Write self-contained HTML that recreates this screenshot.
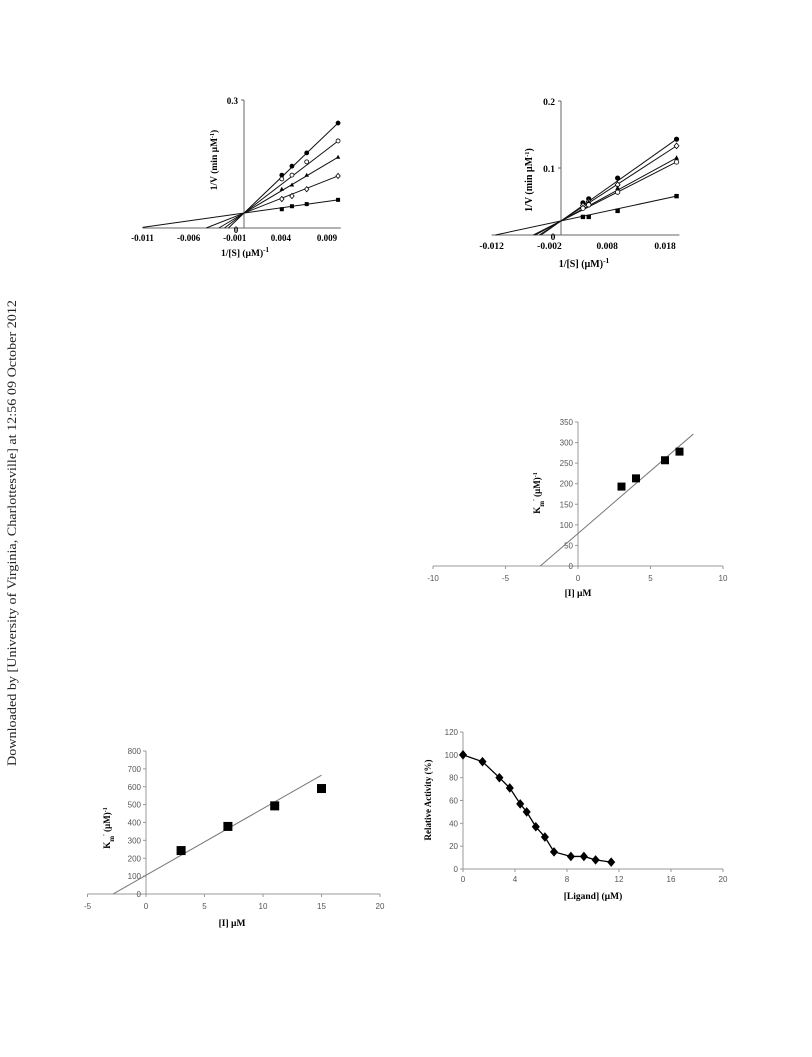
<!DOCTYPE html>
<html><head><meta charset="utf-8"><style>
html,body{margin:0;padding:0;background:#fff;width:812px;height:1057px;overflow:hidden}
svg{display:block}
.tb{font-family:"Liberation Serif",serif;font-weight:bold}
.ts{font-family:"Liberation Sans",sans-serif;fill:#555}
</style></head><body>
<svg id="page" width="812" height="1057" viewBox="0 0 812 1057" xmlns="http://www.w3.org/2000/svg">
<text x="0" y="0" transform="translate(16,533) rotate(-90)" text-anchor="middle" font-family="Liberation Serif, serif" font-size="12.5" textLength="466" lengthAdjust="spacingAndGlyphs" fill="#222">Downloaded by [University of Virginia, Charlottesville] at 12:56 09 October 2012</text>
<g id="c1"></g>
<g id="c2"></g>
<g id="c3"></g>
<g id="c4"></g>
<g id="c5"></g>
</svg>
<script>
// ---- Chart 1 data ----
const c1X = [0.0041, 0.0052, 0.0068, 0.0102];
const c1S1 = [0.124, 0.145, 0.176, 0.246];
const c1S2 = [0.115, 0.124, 0.155, 0.204];
const c1S3 = [0.091, 0.101, 0.124, 0.166];
const c1S4 = [0.068, 0.075, 0.091, 0.122];
const c1S5 = [0.044, 0.051, 0.056, 0.066];
const c1XTicks = [-0.011, -0.006, -0.001, 0.004, 0.009];
const c1XTickLabels = ["-0.011", "-0.006", "-0.001", "0.004", "0.009"];
const c1YTicks = [0.3];
const c1YTickLabels = ["0.3"];
const c1Pivot = [0, 0.035];
// ---- Chart 2 data ----
const c2X = [0.0038, 0.0048, 0.0098, 0.020];
const c2S1 = [0.048, 0.054, 0.085, 0.143];
const c2S2 = [0.044, 0.050, 0.075, 0.133];
const c2S3 = [0.042, 0.049, 0.070, 0.115];
const c2S4 = [0.040, 0.045, 0.064, 0.109];
const c2S5 = [0.027, 0.027, 0.036, 0.058];
const c2XTicks = [-0.012, -0.002, 0.008, 0.018];
const c2XTickLabels = ["-0.012", "-0.002", "0.008", "0.018"];
const c2YTicks = [0.1, 0.2];
const c2YTickLabels = ["0.1", "0.2"];
const c2Pivot = [0, 0.021];
// ---- Chart 3 data ----
const c3X = [3, 4, 6, 7];
const c3Y = [193, 213, 257, 278];
const c3Fit = [79, 30.4]; // intercept, slope
const c3FitRange = [-2.6, 7.95];
const c3XTicks = [-10, -5, 0, 5, 10];
const c3YTicks = [0, 50, 100, 150, 200, 250, 300, 350];
// ---- Chart 4 data ----
const c4X = [3, 7, 11, 15];
const c4Y = [243, 378, 493, 590];
const c4Fit = [105, 37.3];
const c4FitRange = [-2.8, 15];
const c4XTicks = [-5, 0, 5, 10, 15, 20];
const c4YTicks = [0, 100, 200, 300, 400, 500, 600, 700, 800];
// ---- Chart 5 data ----
const c5X = [0, 1.5, 2.8, 3.6, 4.4, 4.9, 5.6, 6.3, 7.0, 8.3, 9.3, 10.2, 11.4];
const c5Y = [100, 94, 80, 71, 57, 50, 37, 28, 15, 11, 11, 8, 6];
const c5XTicks = [0, 4, 8, 12, 16, 20];
const c5YTicks = [0, 20, 40, 60, 80, 100, 120];

const NS = "http://www.w3.org/2000/svg";
function mk(parent, tag, attrs, txt) {
  const e = document.createElementNS(NS, tag);
  for (const k in attrs) e.setAttribute(k, attrs[k]);
  if (txt !== undefined) e.textContent = txt;
  parent.appendChild(e);
  return e;
}
function lin(d0, d1, r0, r1) { return v => r0 + (v - d0) * (r1 - r0) / (d1 - d0); }
function marker(g, type, x, y, s) {
  let e;
  if (type === 'fc' || type === 'oc') {
    e = mk(g, 'circle', {cx: x, cy: y, r: s, fill: type === 'fc' ? '#000' : '#fff', stroke: '#000', 'stroke-width': 0.8});
  } else if (type === 'tri') {
    e = mk(g, 'polygon', {points: `${x},${y - s * 1.2} ${x - s * 1.1},${y + s * 0.8} ${x + s * 1.1},${y + s * 0.8}`, fill: '#000'});
  } else if (type === 'od' || type === 'fd') {
    e = mk(g, 'polygon', {points: `${x},${y - s * 1.3} ${x + s * 1.1},${y} ${x},${y + s * 1.3} ${x - s * 1.1},${y}`, fill: type === 'fd' ? '#000' : '#fff', stroke: '#000', 'stroke-width': 0.8});
  } else {
    e = mk(g, 'rect', {x: x - s, y: y - s, width: 2 * s, height: 2 * s, fill: '#000'});
  }
  return e;
}

// Lineweaver-Burk charts
function lbChart(g, cfg) {
  const sx = cfg.sx, sy = cfg.sy;
  const ax = mk(g, 'line', {x1: sx(cfg.xmin), y1: sy(0), x2: sx(cfg.xmax), y2: sy(0), stroke: '#666', 'stroke-width': 1});
  
  
  const ay = mk(g, 'line', {x1: sx(0), y1: sy(0), x2: sx(0), y2: sy(cfg.ymax), stroke: '#666', 'stroke-width': 1});
  
  
  mk(g, 'line', {x1: sx(0) - 3, y1: sy(cfg.ymax), x2: sx(0), y2: sy(cfg.ymax), stroke: '#666'});
  cfg.xt.forEach((v, i) => {
    const t = mk(g, 'text', {x: sx(v), y: sy(0) + cfg.xlOff, 'text-anchor': 'middle', class: 'tb', 'font-size': cfg.fs}, cfg.xtl[i]);
    
    
  });
  cfg.yt.forEach((v, i) => {
    mk(g, 'line', {x1: sx(0) - 3, y1: sy(v), x2: sx(0), y2: sy(v), stroke: '#666'});
    const t = mk(g, 'text', {x: sx(0) - 6, y: sy(v) + 4, 'text-anchor': 'end', class: 'tb', 'font-size': cfg.fs}, cfg.ytl[i]);
    
    
  });
  const z = mk(g, 'text', {x: sx(0) - 8, y: sy(0) + 5, 'text-anchor': 'middle', class: 'tb', 'font-size': cfg.fs}, '0');
  
  
  cfg.series.forEach((s, si) => {
    const xs = cfg.x, ys = s.y;
    // line through pivot and last point, extended to x-axis
    const px = cfg.pivot[0], py = cfg.pivot[1];
    const lx = xs[xs.length - 1], ly = ys[ys.length - 1];
    const m = (ly - py) / (lx - px);
    const x0 = Math.max(cfg.xmin, px - py / m);
    const l = mk(g, 'line', {x1: sx(x0), y1: sy(py + m * (x0 - px)), x2: sx(lx), y2: sy(ly), stroke: '#111', 'stroke-width': 1});
    
    
    xs.forEach((xv, i) => {
      const p = marker(g, s.m, sx(xv), sy(ys[i]), cfg.ms);
      
      
    });
  });
  const yt = mk(g, 'text', {x: 0, y: 0, transform: `translate(${cfg.ytx},${cfg.yty}) rotate(-90)`, 'text-anchor': 'middle', class: 'tb', 'font-size': cfg.fs + 0.5}, '');
  
  
  yt.innerHTML = '1/V (min µM<tspan baseline-shift="super" font-size="' + (cfg.fs - 3) + '">-1</tspan>)';
  const xt = mk(g, 'text', {x: cfg.xtx, y: cfg.xty, 'text-anchor': 'middle', class: 'tb', 'font-size': cfg.fs + 0.5}, '');
  
  
  xt.innerHTML = '1/[S] (µM)<tspan baseline-shift="super" font-size="' + (cfg.fs - 2) + '">-1</tspan>';
}

lbChart(document.getElementById('c1'), {
  sx: lin(0, 0.009, 244, 327), sy: lin(0, 0.3, 228, 100),
  xmin: -0.011, xmax: 0.0105, ymax: 0.3, xt: c1XTicks, xtl: c1XTickLabels, yt: c1YTicks, ytl: c1YTickLabels,
  fs: 9, xlOff: 13, x: c1X, pivot: c1Pivot, ms: 2,
  series: [{y: c1S1, m: 'fc'}, {y: c1S2, m: 'oc'}, {y: c1S3, m: 'tri'}, {y: c1S4, m: 'od'}, {y: c1S5, m: 'sq'}],
  ytx: 217, yty: 160, xtx: 245, xty: 256
});
lbChart(document.getElementById('c2'), {
  sx: lin(0, 0.018, 561, 665), sy: lin(0, 0.2, 235, 101),
  xmin: -0.012, xmax: 0.0205, ymax: 0.2, xt: c2XTicks, xtl: c2XTickLabels, yt: c2YTicks, ytl: c2YTickLabels,
  fs: 9.5, xlOff: 14, x: c2X, pivot: c2Pivot, ms: 2.2,
  series: [{y: c2S1, m: 'fc'}, {y: c2S2, m: 'od'}, {y: c2S3, m: 'tri'}, {y: c2S4, m: 'oc'}, {y: c2S5, m: 'sq'}],
  ytx: 532, yty: 180, xtx: 584, xty: 267
});

// Excel-style scatter charts
function xlChart(g, cfg) {
  const sx = cfg.sx, sy = cfg.sy;
  const x0 = cfg.xt[0], x1 = cfg.xt[cfg.xt.length - 1];
  const ymax = cfg.yt[cfg.yt.length - 1];
  const ax = mk(g, 'line', {x1: sx(x0), y1: sy(0), x2: sx(x1), y2: sy(0), stroke: '#999', 'stroke-width': 1});
  
  
  const ay = mk(g, 'line', {x1: sx(0), y1: sy(0), x2: sx(0), y2: sy(ymax), stroke: '#999', 'stroke-width': 1});
  
  
  cfg.xt.forEach(v => {
    mk(g, 'line', {x1: sx(v), y1: sy(0), x2: sx(v), y2: sy(0) + 3, stroke: '#999'});
    const t = mk(g, 'text', {x: sx(v), y: sy(0) + cfg.xlOff, 'text-anchor': 'middle', class: 'ts', 'font-size': 8}, String(v));
    
    
  });
  cfg.yt.forEach(v => {
    mk(g, 'line', {x1: sx(0) - 3, y1: sy(v), x2: sx(0), y2: sy(v), stroke: '#999'});
    const t = mk(g, 'text', {x: sx(0) - 5, y: sy(v) + 3, 'text-anchor': 'end', class: 'ts', 'font-size': 8}, String(v));
    
    
  });
  if (cfg.fit) {
    const a = cfg.fit[0], b = cfg.fit[1];
    const r = cfg.fitRange;
    const l = mk(g, 'line', {x1: sx(r[0]), y1: sy(a + b * r[0]), x2: sx(r[1]), y2: sy(a + b * r[1]), stroke: '#777', 'stroke-width': 1});
    
    
  }
  if (cfg.connect) {
    const pts = cfg.x.map((v, i) => sx(v) + ',' + sy(cfg.y[i])).join(' ');
    const pl = mk(g, 'polyline', {points: pts, fill: 'none', stroke: '#000', 'stroke-width': 1.3});
    
    
  }
  cfg.x.forEach((v, i) => {
    const p = marker(g, cfg.m, sx(v), sy(cfg.y[i]), cfg.ms);
    
    
  });
  const yt = mk(g, 'text', {x: 0, y: 0, transform: `translate(${cfg.ytx},${cfg.yty}) rotate(-90)`, 'text-anchor': 'middle', class: 'tb', 'font-size': 9}, '');
  
  
  yt.innerHTML = cfg.ytitle;
  const xt = mk(g, 'text', {x: cfg.xtx, y: cfg.xty, 'text-anchor': 'middle', class: 'tb', 'font-size': 9.5}, '');
  
  
  xt.innerHTML = cfg.xtitle;
}
const kmTitle = 'K<tspan baseline-shift="sub" font-size="7">m</tspan><tspan baseline-shift="super" font-size="6">\'</tspan> (µM)<tspan baseline-shift="super" font-size="6">-1</tspan>';
xlChart(document.getElementById('c3'), {
  sx: lin(0, 10, 578, 723), sy: lin(0, 350, 566, 422), xt: c3XTicks, yt: c3YTicks,
  x: c3X, y: c3Y, fit: c3Fit, fitRange: c3FitRange, m: 'sq', ms: 4, xlOff: 15,
  ytx: 540, yty: 493, xtx: 578, xty: 596, ytitle: kmTitle, xtitle: '[I] µM'
});
xlChart(document.getElementById('c4'), {
  sx: lin(0, 20, 146, 380), sy: lin(0, 800, 894, 751), xt: c4XTicks, yt: c4YTicks,
  x: c4X, y: c4Y, fit: c4Fit, fitRange: c4FitRange, m: 'sq', ms: 4.5, xlOff: 15,
  ytx: 110, yty: 828, xtx: 232, xty: 926, ytitle: kmTitle, xtitle: '[I] µM'
});
xlChart(document.getElementById('c5'), {
  sx: lin(0, 20, 463, 723), sy: lin(0, 120, 869, 732), xt: c5XTicks, yt: c5YTicks,
  x: c5X, y: c5Y, m: 'fd', ms: 3.2, xlOff: 13, connect: true,
  ytx: 431, yty: 800, xtx: 593, xty: 899, ytitle: 'Relative Activity (%)', xtitle: '[Ligand] (µM)'
});
</script>
</body></html>
